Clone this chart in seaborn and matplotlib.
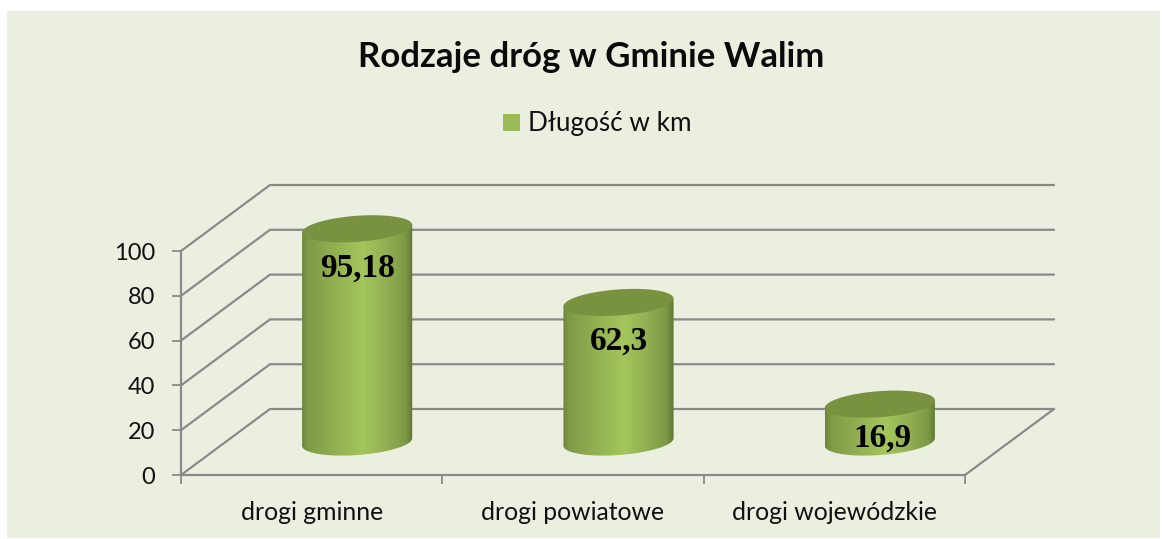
import numpy as np
import pandas as pd
import seaborn as sns
import matplotlib.pyplot as plt
from matplotlib.colors import LinearSegmentedColormap
from matplotlib.patches import Polygon, Rectangle

categories = ['drogi gminne', 'drogi powiatowe', 'drogi wojewódzkie']
lengths = [95.18, 62.3, 16.9]
value_labels = ['95,18', '62,3', '16,9']
y_ticks = [0, 20, 40, 60, 80, 100]
series_name = 'Długość w km'

W, H = 1162, 539
GREY = '#8a8a8a'

sns.set_theme(style='white')
plt.rcParams['font.family'] = ['Lato', 'DejaVu Sans']

df = pd.DataFrame({'droga': categories, 'km': lengths})

fig = plt.figure(figsize=(W / 100, H / 100), dpi=100, facecolor='white')
fig.add_artist(Rectangle((7 / W, 1 - 538 / H), 1153 / W, 527 / H, transform=fig.transFigure,
                         facecolor='#ebefdf', edgecolor='none', zorder=-5))

# front plane of the 3d box, in pixels: x 181-965, y 251-475
ax = fig.add_axes([181 / W, 1 - 475 / H, 784 / W, 224 / H])
ax.patch.set_alpha(0)

sns.barplot(data=df, x='droga', y='km', color='#9bbb59', width=0.42, saturation=1,
            label=series_name, ax=ax)

ax.set_xlim(-0.5, 2.5)
ax.set_ylim(0, 100)
ax.set_xlabel('')
ax.set_ylabel('')

# pixel sizes of one data unit, and the depth offset of the box
sx = 784 / 3
sy = 224 / 100
dx = 89 / sx
dy = 66 / sy

# walls
for v in y_ticks:
    ax.plot([-0.5, -0.5 + dx, 2.5 + dx], [v, v + dy, v + dy], color=GREY, lw=1.6,
            clip_on=False, zorder=1, solid_joinstyle='miter')
ax.plot([2.5, 2.5 + dx], [0, dy], color=GREY, lw=1.6, clip_on=False, zorder=1)

# axes lines and ticks
sns.despine(ax=ax, top=True, right=True)
for s in ['left', 'bottom']:
    ax.spines[s].set_color(GREY)
    ax.spines[s].set_linewidth(1.6)
ax.set_yticks(y_ticks)
ax.set_xticks([-0.5, 0.5, 1.5, 2.5], minor=True)
ax.tick_params(axis='y', which='major', left=True, length=6.5, width=1.3, color=GREY,
               pad=12, labelsize=17, labelcolor='#111111')
ax.tick_params(axis='x', which='minor', bottom=True, length=6.5, width=1.3, color=GREY)
ax.tick_params(axis='x', which='major', bottom=False, pad=13, labelsize=17.8, labelcolor='#111111')
for lab in ax.get_yticklabels():
    lab.set_verticalalignment('center_baseline')

fig.suptitle('Rodzaje dróg w Gminie Walim', x=591.5 / W, y=1 - 57 / H, va='center',
             fontsize=25, fontweight='bold', color='#0a0a0a')
leg = ax.legend(loc='center', bbox_to_anchor=(597 / W, 1 - 124 / H), bbox_transform=fig.transFigure,
                frameon=False, fontsize=18.8, handlelength=0.65, handleheight=0.65, handletextpad=0.3,
                labelcolor='#111111')
leg.legend_handles[0].set_edgecolor('none')

# turn the flat bars into cylinders
side_cmap = LinearSegmentedColormap.from_list(
    'side', [(0, '#6c853c'), (0.05, '#7e9a46'), (0.25, '#8fac50'), (0.55, '#a4c65c'),
             (0.75, '#93b053'), (0.93, '#7e9a46'), (1, '#5f7534')])
grad = np.linspace(0, 1, 256).reshape(1, -1)
theta = np.radians(4.2)
a, b = 55.2, 13
t = np.linspace(0, 2 * np.pi, 361)
ex = a * np.cos(t) * np.cos(theta) - b * np.sin(t) * np.sin(theta)
ey = a * np.cos(t) * np.sin(theta) + b * np.sin(t) * np.cos(theta)
i_l, i_r = ex.argmin(), ex.argmax()
# lower arc runs from the left extreme to the right one
roll = np.roll(np.arange(360), -i_l)
split = list(roll).index(i_r)
lower = roll[:split + 1]
if ey[lower].mean() > 0:
    lower = np.r_[roll[split:], roll[0]][::-1]

label_nudge = [(0, -39.5), (0, -38.5), (3, -34.5)]
for bar, text, nudge in zip(ax.patches, value_labels, label_nudge):
    bar.set_visible(False)
    cx = bar.get_x() + bar.get_width() / 2 + dx / 2 + 1 / sx
    base = dy / 2
    top = bar.get_height() + dy / 2
    px, py = ex / sx, ey / sy

    body_x = np.r_[cx + px[lower], cx + px[i_r], cx + px[i_l]]
    body_y = np.r_[base + py[lower], top + py[i_r], top + py[i_l]]
    clip = Polygon(np.c_[body_x, body_y], closed=True, transform=ax.transData,
                   facecolor='none', edgecolor='none')
    ax.add_patch(clip)
    clip.set_clip_on(False)
    im = ax.imshow(grad, cmap=side_cmap, aspect='auto', interpolation='bilinear', zorder=3,
                   extent=(body_x.min(), body_x.max(), body_y.min(), body_y.max()))
    im.set_clip_path(clip)
    im.set_clip_box(fig.bbox)

    ax.add_patch(Polygon(np.c_[cx + px, top + py], closed=True, facecolor='#79923f',
                         edgecolor='none', clip_on=False, zorder=4))
    ax.annotate(text, (cx, top), xytext=(nudge[0] * 0.72, nudge[1] * 0.72), textcoords='offset points',
                ha='center', va='center', fontsize=24, fontweight='bold',
                family=['Liberation Serif'], color='black', zorder=5, annotation_clip=False)

ax.set_xlim(-0.5, 2.5)
ax.set_ylim(0, 100)

fig.savefig('out.png', dpi=100)
